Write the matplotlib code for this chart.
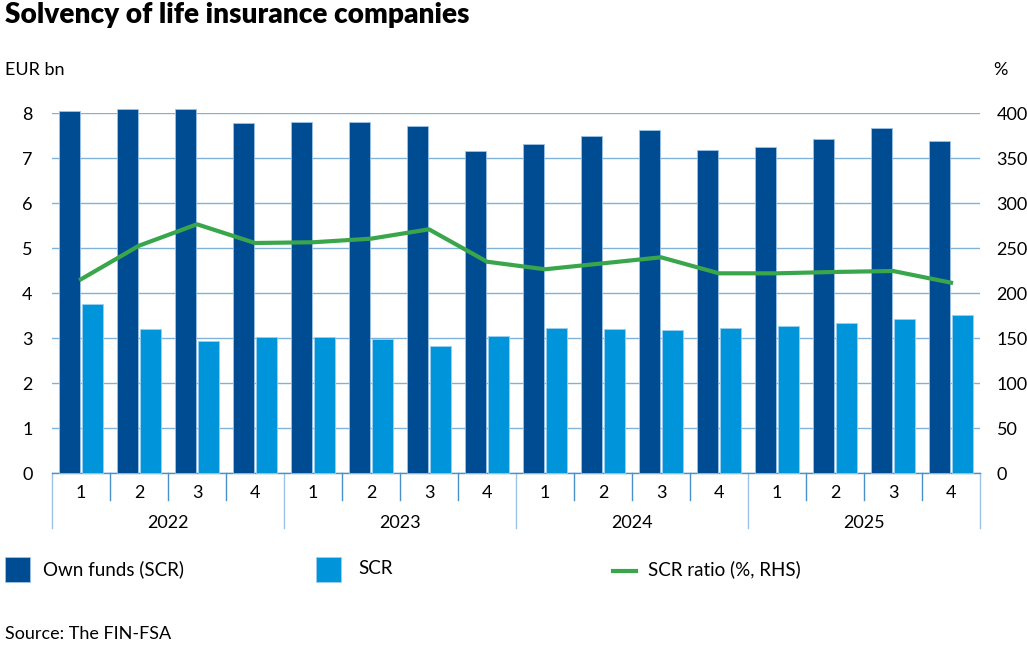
import matplotlib
matplotlib.use("Agg")
import matplotlib.pyplot as plt
import matplotlib.transforms as mtransforms
from matplotlib.lines import Line2D
from matplotlib.patches import Rectangle
import numpy as np

plt.rcParams['font.family'] = ['Lato', 'DejaVu Sans']

quarters = ["1", "2", "3", "4"] * 4
years = ["2022", "2023", "2024", "2025"]
own_funds = [8.05, 8.09, 8.09, 7.78, 7.81, 7.81, 7.71, 7.16,
             7.32, 7.50, 7.63, 7.18, 7.25, 7.43, 7.67, 7.38]
scr = [3.76, 3.21, 2.93, 3.04, 3.04, 2.98, 2.84, 3.05,
       3.22, 3.21, 3.19, 3.23, 3.27, 3.33, 3.44, 3.52]
scr_ratio = [215.6, 252.9, 276.7, 255.9, 256.7, 260.7, 271.1, 235.1,
             226.7, 233.3, 240.0, 222.2, 222.2, 223.7, 224.8, 211.8]

DARK = "#004c93"
LIGHT = "#0095db"
GREEN = "#3aa64c"
GRID = "#7fb3d9"
AXIS = "#4a90c8"

fig = plt.figure(figsize=(10.27, 6.64), dpi=100)
ax = fig.add_axes([52/1027, 1-473.3/664, (980-52)/1027, (473.3-113.3)/664])
ax2 = ax.twinx()

x = np.arange(len(quarters))
w = 0.37
ax.bar(x - 0.195, own_funds, width=w, color=DARK, edgecolor="#9cc3e6", linewidth=0.6, clip_on=False, zorder=3)
ax.bar(x + 0.195, scr, width=w, color=LIGHT, edgecolor="#9cd0ef", linewidth=0.6, clip_on=False, zorder=3)
ax2.plot(x, scr_ratio, color=GREEN, linewidth=3, zorder=4, solid_joinstyle='round')

ax.set_xlim(-0.5, len(quarters) - 0.5)
ax.set_ylim(0, 8)
ax2.set_ylim(0, 400)
ax.set_yticks(range(0, 9))
ax2.set_yticks(range(0, 401, 50))
ax.yaxis.grid(True, color=GRID, linewidth=1.0, zorder=0)
ax.set_axisbelow(True)
ax.tick_params(axis='y', length=0, labelsize=13, pad=14, colors="#000000")
ax2.tick_params(axis='y', length=0, labelsize=13, pad=12, colors="#000000")
ax.set_xticks([])
for a in (ax, ax2):
    for s in ("left", "right", "top", "bottom"):
        a.spines[s].set_visible(False)
ax.spines["bottom"].set_visible(True)
ax.spines["bottom"].set_color(AXIS)
ax.spines["bottom"].set_linewidth(1.0)

trans = mtransforms.blended_transform_factory(ax.transData, ax.transAxes)
pxy = 1.0 / (473.3 - 113.3)
for i in range(len(quarters) + 1):
    xs = i - 0.5
    long = (i % 4 == 0)
    y1 = -(528 - 473.3) * pxy if long else -(500 - 473.3) * pxy
    ax.add_line(Line2D([xs, xs], [0, y1], transform=trans, color=AXIS if not long else "#9cc3e6",
                       linewidth=1.0, clip_on=False))
for i, q in enumerate(quarters):
    ax.text(i, -(493 - 473.3) * pxy, q, transform=trans, ha="center", va="center", fontsize=13)
for j, yr in enumerate(years):
    ax.text(4 * j + 1.5, -(523 - 473.3) * pxy, yr, transform=trans, ha="center", va="center", fontsize=13)

fig.text(5/1027, 1-23/664, "Solvency of life insurance companies", fontsize=20.2, fontweight="heavy",
         ha="left", va="baseline")
fig.text(5/1027, 1-70/664, "EUR bn", fontsize=13, ha="left", va="center")
fig.text(993/1027, 1-70/664, "%", fontsize=13, ha="left", va="center")

# legend
ly = 1 - 569/664
fig.patches.append(Rectangle((5/1027, 1-582/664), 25/1027, 25/664, transform=fig.transFigure,
                             facecolor=DARK, edgecolor="#9cc3e6", linewidth=0.6))
fig.text(43/1027, ly, "Own funds (SCR)", fontsize=13.5, ha="left", va="center")
fig.patches.append(Rectangle((316/1027, 1-582/664), 25/1027, 25/664, transform=fig.transFigure,
                             facecolor=LIGHT, edgecolor="#9cd0ef", linewidth=0.6))
fig.text(358/1027, ly, "SCR", fontsize=13.5, ha="left", va="center")
fig.lines.append(Line2D([613/1027, 636/1027], [1-571/664, 1-571/664], transform=fig.transFigure,
                        color=GREEN, linewidth=3))
fig.text(648/1027, ly, "SCR ratio (%, RHS)", fontsize=13.5, ha="left", va="center")

fig.text(5/1027, 1-634/664, "Source: The FIN-FSA", fontsize=13, ha="left", va="center")

fig.savefig("out.png", dpi=100)
